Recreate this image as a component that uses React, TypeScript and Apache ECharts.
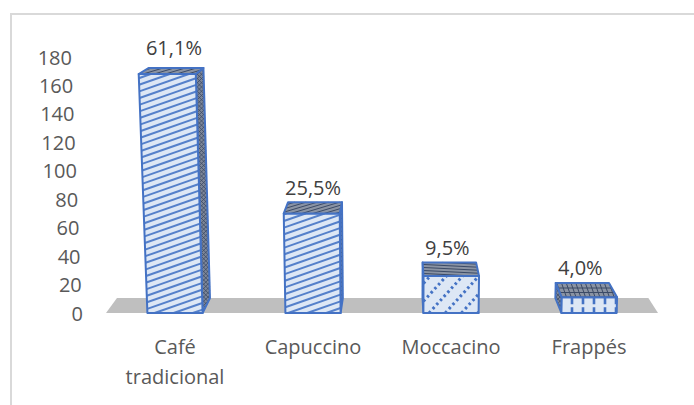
import React, { useEffect, useRef } from "react";
import * as echarts from "echarts";

const categories = ["Café\ntradicional", "Capuccino", "Moccacino", "Frappés"];
const values = [168, 70, 26, 11];
const percentLabels = ["61,1%", "25,5%", "9,5%", "4,0%"];
const yTicks = [0, 20, 40, 60, 80, 100, 120, 140, 160, 180];

type Pt = [number, number];

const VX = 400;
const VY = -89;
const K = 0.0373;
const SKEW = 1.44e-4;
const back = (p: Pt): Pt => [p[0] + (VX - p[0]) * K, p[1] + (VY - p[1]) * K];

function hatch(poly: Pt[], dir: Pt, spacing: number, style: any, phase = 0) {
  const len = Math.hypot(dir[0], dir[1]);
  const d: Pt = [dir[0] / len, dir[1] / len];
  const n: Pt = [-d[1], d[0]];
  const proj = poly.map((p) => p[0] * n[0] + p[1] * n[1]);
  const mn = Math.min(...proj);
  const mx = Math.max(...proj);
  const out: any[] = [];
  for (let o = Math.ceil((mn - phase) / spacing) * spacing + phase; o <= mx; o += spacing) {
    const pts: Pt[] = [];
    for (let i = 0; i < poly.length; i++) {
      const j = (i + 1) % poly.length;
      const a = poly[i];
      const b = poly[j];
      const fa = proj[i] - o;
      const fb = proj[j] - o;
      if ((fa <= 0 && fb > 0) || (fa > 0 && fb <= 0)) {
        const t = fa / (fa - fb);
        pts.push([a[0] + (b[0] - a[0]) * t, a[1] + (b[1] - a[1]) * t]);
      }
    }
    if (pts.length >= 2) {
      pts.sort((p, q) => p[0] * d[0] + p[1] * d[1] - (q[0] * d[0] + q[1] * d[1]));
      const p = pts[0];
      const q = pts[pts.length - 1];
      out.push({ type: "line", silent: true, shape: { x1: p[0], y1: p[1], x2: q[0], y2: q[1] }, style });
    }
  }
  return out;
}

const BLUE = "#4472c4";
const LIGHT = "#dde7f5";
const TOPFILL = "#8a93a3";
const DARK = "#3b4a66";

const frontPatterns = [
  { dirs: [[1, -0.35] as Pt], spacing: 6.3, style: { stroke: "#5580ca", lineWidth: 2 } },
  { dirs: [[1, -0.35] as Pt], spacing: 6.3, style: { stroke: "#5580ca", lineWidth: 2 } },
  { dirs: [[1, -1.1] as Pt], spacing: 12, style: { stroke: BLUE, lineWidth: 3, lineDash: [2.5, 3] } },
  { dirs: [[0, 1] as Pt], spacing: 11, style: { stroke: BLUE, lineWidth: 2.6, lineDash: [7, 3] } },
];
const topPatterns = [
  { dirs: [[1, -0.3] as Pt], spacing: 3.2 },
  { dirs: [[1, -0.3] as Pt], spacing: 3.2 },
  { dirs: [[1, 0.05] as Pt], spacing: 3 },
  { dirs: [[1, 0] as Pt, [0.35, 1] as Pt], spacing: 4.5 },
];

function face(poly: Pt[], fill: string, patterns: Pt[], spacing: number, lineStyle: any) {
  const children: any[] = [];
  children.push({ type: "polygon", silent: true, shape: { points: poly }, style: { fill, stroke: "none" } });
  patterns.forEach((dir) => {
    children.push(...hatch(poly, dir, spacing, lineStyle));
  });
  children.push({
    type: "polygon",
    silent: true,
    shape: { points: poly },
    style: { fill: "none", stroke: BLUE, lineWidth: 2, lineJoin: "round" },
  });
  return children;
}

export default function App() {
  const ref = useRef<HTMLDivElement>(null);
  useEffect(() => {
    if (!ref.current) return;
    const chart = echarts.init(ref.current, null, { renderer: "svg" });
    const rich: any = {};
    yTicks.forEach((v) => {
      rich["p" + v] = {
        fontSize: 20,
        fontFamily: "Open Sans",
        color: "#595959",
        padding: [0, (v / 180) * 11, 0, 0],
      };
    });
    const option: any = {
      animation: false,
      backgroundColor: "#ffffff",
      graphic: [
        {
          type: "rect",
          silent: true,
          shape: { x: 11, y: 14, width: 800, height: 600 },
          style: { fill: "none", stroke: "#d9d9d9", lineWidth: 2 },
          z: -10,
        },
      ],
      grid: { left: 106, right: 36, top: 57, bottom: 92 },
      xAxis: {
        type: "category",
        data: categories,
        axisLine: { show: false },
        axisTick: { show: false },
        axisLabel: {
          fontSize: 20,
          fontFamily: "Open Sans",
          color: "#595959",
          lineHeight: 30,
          margin: 18,
          interval: 0,
        },
      },
      yAxis: {
        type: "value",
        min: 0,
        max: 180,
        interval: 20,
        axisLine: { show: false },
        axisTick: { show: false },
        splitLine: { show: false },
        axisLabel: {
          margin: 23,
          formatter: (v: number) => `{p${v}|${v}}`,
          rich,
        },
      },
      series: [
        {
          type: "custom",
          name: "floor",
          data: [[0, 0]],
          z: 1,
          renderItem: (params: any, api: any) => {
            const cs = params.coordSys;
            const y0 = api.coord([0, 0])[1];
            const fl: Pt = [cs.x, y0];
            const fr: Pt = [cs.x + cs.width, y0];
            const bl = back(fl);
            const br = back(fr);
            return {
              type: "polygon",
              silent: true,
              shape: { points: [fl, fr, br, bl] },
              style: { fill: "#bfbfbf", stroke: "none" },
            };
          },
        },
        {
          type: "custom",
          name: "values",
          z: 2,
          data: values.map((v, i) => [i, v]),
          renderItem: (params: any, api: any) => {
            const idx = api.value(0);
            const val = api.value(1);
            const p0 = api.coord([idx, 0]);
            const p1 = api.coord([idx, val]);
            const band = api.size([1, 0])[0];
            const bw = band * 0.4;
            const h = p0[1] - p1[1];
            const xl = p0[0] - bw / 2;
            const xr = p0[0] + bw / 2;
            const BL: Pt = [xl, p0[1]];
            const BR: Pt = [xr, p0[1]];
            const TL: Pt = [xl + (xl - VX) * SKEW * h, p1[1]];
            const TR: Pt = [xr + (xr - VX) * SKEW * h, p1[1]];
            const bTL = back(TL);
            const bTR = back(TR);
            const bBL = back(BL);
            const bBR = back(BR);
            const children: any[] = [];
            const fp = frontPatterns[idx];
            const tp = topPatterns[idx];
            const darkStyle = { stroke: DARK, lineWidth: 1 };
            if (xr < VX) {
              children.push(...face([TR, bTR, bBR, BR], "#7d8698", [[1, 1], [1, -1]], 3, { stroke: DARK, lineWidth: 0.8 }));
            } else if (xl > VX) {
              children.push(...face([TL, bTL, bBL, BL], "#7d8698", [[1, 1], [1, -1]], 3, { stroke: DARK, lineWidth: 0.8 }));
            }
            children.push(...face([BL, BR, TR, TL], LIGHT, fp.dirs, fp.spacing, fp.style));
            children.push(...face([TL, TR, bTR, bTL], TOPFILL, tp.dirs, tp.spacing, darkStyle));
            const topY = Math.min(bTL[1], bTR[1]);
            children.push({
              type: "text",
              silent: true,
              style: {
                text: percentLabels[idx],
                x: (bTL[0] + bTR[0]) / 2 - 2,
                y: topY - 5 - Math.max(0, (200 - topY) * 0.04),
                align: "center",
                verticalAlign: "bottom",
                fontSize: 20,
                fontFamily: "Open Sans",
                fill: "#404040",
              },
            });
            return { type: "group", children };
          },
        },
      ],
    };
    chart.setOption(option);
    return () => chart.dispose();
  }, []);
  return (
    <div
      ref={ref}
      style={{ position: "fixed", left: 0, top: 0, width: 694, height: 405, background: "#fff" }}
    />
  );
}
